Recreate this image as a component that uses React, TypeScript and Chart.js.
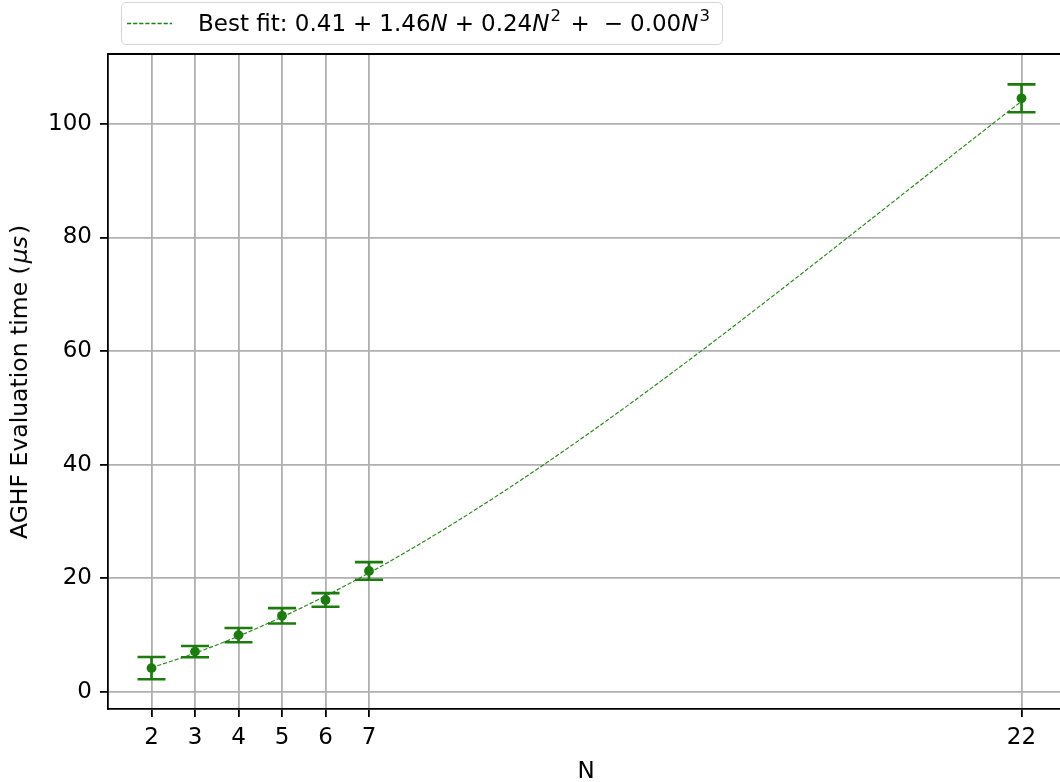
import React, { useEffect, useRef } from 'react';
import { Chart, registerables } from 'chart.js';

Chart.register(...registerables);

// ---- data ----
const nValues = [2, 3, 4, 5, 6, 7, 22];
const meanTimes = [4.2, 7.1, 10.0, 13.4, 16.2, 21.3, 104.5];
const errTimes = [1.95, 1.0, 1.25, 1.35, 1.2, 1.55, 2.45];

const fitN = [2, 3, 4, 5, 6, 7, 8, 9, 10, 11, 12, 13, 14, 15, 16, 17, 18, 19, 20, 21, 22];
const fitTimes = [4.26, 6.84, 9.82, 13.19, 16.9, 20.95, 25.3, 29.93, 34.81, 39.92, 45.23, 50.72, 56.37, 62.13, 68.01, 73.96, 79.96, 85.98, 92.01, 98.01, 103.97];

const xTicks = [2, 3, 4, 5, 6, 7, 22];
const yTicks = [0, 20, 40, 60, 80, 100];

const GREEN = 'rgb(28,122,14)';
const LINE_GREEN = 'rgb(40,135,25)';
const FONT = "'DejaVu Sans', sans-serif";

const errorBarPlugin = {
  id: 'errorBars',
  afterDatasetsDraw(chart: any) {
    const { ctx, scales } = chart;
    const x = scales.x;
    const y = scales.y;
    ctx.save();
    ctx.strokeStyle = GREEN;
    ctx.lineWidth = 2.6;
    nValues.forEach((n, i) => {
      const px = x.getPixelForValue(n);
      const top = y.getPixelForValue(meanTimes[i] + errTimes[i]);
      const bot = y.getPixelForValue(meanTimes[i] - errTimes[i]);
      ctx.beginPath();
      ctx.moveTo(px, top);
      ctx.lineTo(px, bot);
      ctx.moveTo(px - 14, top);
      ctx.lineTo(px + 14, top);
      ctx.moveTo(px - 14, bot);
      ctx.lineTo(px + 14, bot);
      ctx.stroke();
    });
    ctx.restore();
  },
};

const topSpinePlugin = {
  id: 'topSpine',
  afterDraw(chart: any) {
    const { ctx, chartArea } = chart;
    ctx.save();
    ctx.strokeStyle = '#000';
    ctx.lineWidth = 1.8;
    ctx.beginPath();
    ctx.moveTo(chartArea.left - 0.9, chartArea.top);
    ctx.lineTo(chartArea.right + 0.9, chartArea.top);
    ctx.moveTo(chartArea.right, chartArea.top);
    ctx.lineTo(chartArea.right, chartArea.bottom);
    ctx.stroke();
    ctx.restore();
  },
};

export default function App() {
  const canvasRef = useRef<HTMLCanvasElement | null>(null);

  useEffect(() => {
    const canvas = canvasRef.current;
    if (!canvas) return;
    const chart = new Chart(canvas, {
      type: 'scatter',
      data: {
        datasets: [
          {
            type: 'line',
            label: 'Best fit',
            data: fitN.map((n, i) => ({ x: n, y: fitTimes[i] })),
            borderColor: LINE_GREEN,
            borderWidth: 1.15,
            borderDash: [4.2, 1.9],
            pointRadius: 0,
            fill: false,
            cubicInterpolationMode: 'monotone',
            order: 1,
          } as any,
          {
            type: 'scatter',
            label: 'AGHF',
            data: nValues.map((n, i) => ({ x: n, y: meanTimes[i] })),
            backgroundColor: GREEN,
            borderColor: GREEN,
            pointRadius: 4.9,
            pointBorderWidth: 0,
            order: 2,
          } as any,
        ],
      },
      options: {
        animation: false,
        responsive: false,
        devicePixelRatio: 1,
        layout: { padding: { top: 54, right: 10, left: 0, bottom: 0 } },
        plugins: {
          legend: { display: false },
          tooltip: { enabled: false },
        },
        scales: {
          x: {
            type: 'linear',
            min: 1,
            max: 23,
            afterBuildTicks: (s: any) => {
              s.ticks = xTicks.map((v) => ({ value: v }));
            },
            afterFit: (s: any) => {
              s.height = 73;
            },
            grid: {
              color: '#b0b0b0',
              lineWidth: 1.8,
              tickColor: '#000',
              tickLength: 8,
              tickWidth: 1.8,
            },
            border: { color: '#000', width: 1.8 },
            ticks: {
              color: '#000',
              font: { family: FONT, size: 23 },
              padding: 7,
              maxRotation: 0,
              autoSkip: false,
            },
          },
          y: {
            type: 'linear',
            min: -3.0,
            max: 112.3,
            afterBuildTicks: (s: any) => {
              s.ticks = yTicks.map((v) => ({ value: v }));
            },
            afterFit: (s: any) => {
              s.width = 108;
            },
            grid: {
              color: '#b0b0b0',
              lineWidth: 1.8,
              tickColor: '#000',
              tickLength: 8,
              tickWidth: 1.8,
            },
            border: { color: '#000', width: 1.8 },
            ticks: {
              color: '#000',
              font: { family: FONT, size: 23 },
              padding: 8,
            },
          },
        },
      },
      plugins: [errorBarPlugin, topSpinePlugin],
    });
    return () => chart.destroy();
  }, []);

  const sup = (t: string) => (
    <span style={{ fontSize: 16.5, position: 'relative', top: -10, marginLeft: 1, marginRight: 2.5 }}>{t}</span>
  );
  const it = (t: string) => <span style={{ fontStyle: 'italic' }}>{t}</span>;
  const op = (t: string) => <span style={{ margin: '0 7px' }}>{t}</span>;

  return (
    <div
      style={{
        position: 'fixed',
        left: 0,
        top: 0,
        width: 1060,
        height: 782,
        overflow: 'hidden',
        background: '#fff',
        fontFamily: FONT,
      }}
    >
      <canvas
        ref={canvasRef}
        width={1075}
        height={782}
        style={{ width: 1075, height: 782, display: 'block', position: 'absolute', left: 0, top: 0 }}
      />
      {/* legend */}
      <div
        style={{
          position: 'absolute',
          left: 121,
          top: 2,
          width: 602,
          height: 43,
          boxSizing: 'border-box',
          border: '1.5px solid #d5d5d5',
          borderRadius: 5,
          background: 'rgba(255,255,255,0.8)',
        }}
      >
        <svg width={52} height={40} style={{ position: 'absolute', left: 4, top: 0 }}>
          <line x1={1} y1={20.5} x2={46} y2={20.5} stroke="rgb(30,130,20)" strokeWidth={1.4} strokeDasharray="4.2 1.9" />
        </svg>
        <div
          style={{
            position: 'absolute',
            left: 76,
            top: 7,
            fontSize: 23,
            whiteSpace: 'nowrap',
            color: '#000',
            lineHeight: '27px',
          }}
        >
          Best fit: 0.41{op('+')}1.46{it('N')}{op('+')}0.24{it('N')}{sup('2')}{op('+')}{op('−')}0.00{it('N')}{sup('3')}
        </div>
      </div>
      {/* y axis title */}
      <div
        style={{
          position: 'absolute',
          left: 19,
          top: 382,
          transform: 'translate(-50%, -50%) rotate(-90deg)',
          fontSize: 23.5,
          whiteSpace: 'nowrap',
          color: '#000',
        }}
      >
        AGHF Evaluation time (<span style={{ fontStyle: 'italic', margin: '0 2px' }}>μs</span>)
      </div>
      {/* x axis title */}
      <div
        style={{
          position: 'absolute',
          left: 586,
          top: 757,
          transform: 'translateX(-50%)',
          fontSize: 23,
          whiteSpace: 'nowrap',
          color: '#000',
        }}
      >
        N
      </div>
    </div>
  );
}
